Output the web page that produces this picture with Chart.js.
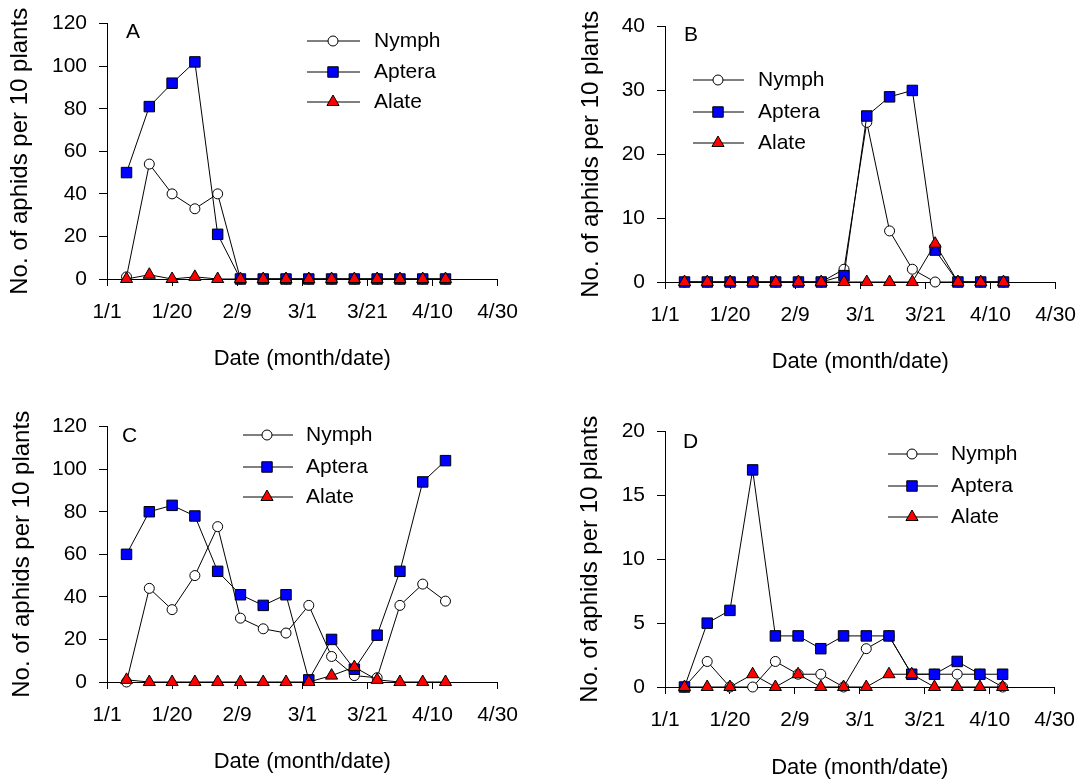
<!DOCTYPE html>
<html><head><meta charset="utf-8">
<script src="https://cdn.jsdelivr.net/npm/chart.js@4.4.1/dist/chart.umd.min.js"></script>
<style>
html,body{margin:0;padding:0;background:#fff;width:1087px;height:784px;overflow:hidden;position:relative;}
canvas{position:absolute;}
</style></head><body>
<script>
// ---------- data ----------
const days = [6,13,20,27,34,41,48,55,62,69,76,83,90,97,104];
const xTickValues = [0,20,40,60,80,100,120];
const xTickLabels = ['1/1','1/20','2/9','3/1','3/21','4/10','4/30'];
const seriesNames = ['Nymph','Aptera','Alate'];

const nymphA  = [1,54,40,33,40,0,0,0,0,0,0,0,0,0,0];
const apteraA = [50,81,92,102,21,0,0,0,0,0,0,0,0,0,0];
const alateA  = [0,2,0,1,0,0,0,0,0,0,0,0,0,0,0];
const yTicksA = [0,20,40,60,80,100,120];

const nymphB  = [0,0,0,0,0,0,0,2,25,8,2,0,0,0,0];
const apteraB = [0,0,0,0,0,0,0,1,26,29,30,5,0,0,0];
const alateB  = [0,0,0,0,0,0,0,0,0,0,0,6,0,0,0];
const yTicksB = [0,10,20,30,40];

const nymphC  = [0,44,34,50,73,30,25,23,36,12,3,2,36,46,38];
const apteraC = [60,80,83,78,52,41,36,41,1,20,6,22,52,94,104];
const alateC  = [1,0,0,0,0,0,0,0,0,3,7,1,0,0,0];
const yTicksC = [0,20,40,60,80,100,120];

const nymphD  = [0,2,0,0,2,1,1,0,3,4,1,1,1,1,0];
const apteraD = [0,5,6,17,4,4,3,4,4,4,1,1,2,1,1];
const alateD  = [0,0,0,1,0,1,0,0,0,1,1,0,0,0,0];
const yTicksD = [0,5,10,15,20];

const xTitle = 'Date (month/date)';
const yTitle = 'No. of aphids per 10 plants';

// ---------- layout / style ----------
const FONT = "'Liberation Sans', Arial, sans-serif";
const TICK_SIZE = 21, XT_SIZE = 22, YT_SIZE = 24, LEG_SIZE = 21, LET_SIZE = 21;
const PT = 20, PR = 30;

const panels = [
  {letter:'A', series:[nymphA,apteraA,alateA], yTicks:yTicksA,
   area:{l:107,r:502,t:19,b:279}, yTitleX:20, xTitleY:359,
   letterPos:{x:126,y:32}, legend:{x0:307,x1:360,mx:333,tx:374,rows:[41,72,102]}},
  {letter:'B', series:[nymphB,apteraB,alateB], yTicks:yTicksB,
   area:{l:665,r:1060,t:22,b:282}, yTitleX:591, xTitleY:362,
   letterPos:{x:684,y:35}, legend:{x0:693,x1:744,mx:718,tx:758,rows:[80,112,143]}},
  {letter:'C', series:[nymphC,apteraC,alateC], yTicks:yTicksC,
   area:{l:107,r:502,t:422,b:682}, yTitleX:22, xTitleY:762,
   letterPos:{x:122,y:436}, legend:{x0:243,x1:293,mx:267,tx:306,rows:[435,467,497]}},
  {letter:'D', series:[nymphD,apteraD,alateD], yTicks:yTicksD,
   area:{l:665,r:1059,t:427,b:687}, yTitleX:590, xTitleY:768,
   letterPos:{x:683,y:442}, legend:{x0:888,x1:938,mx:912,tx:951,rows:[454,486,517]}}
];

const styles = [
  {pointStyle:'circle',   radius:5,   fill:'#ffffff', order:3},
  {pointStyle:'rect',     radius:7.4, fill:'#0000ff', order:2},
  {pointStyle:'triangle', radius:7,   fill:'#ff0000', order:1}
];

function drawMarker(ctx, style, r, fill, x, y){
  ctx.beginPath();
  if (style === 'circle') {
    ctx.arc(x, y, r, 0, Math.PI*2);
  } else if (style === 'rect') {
    const s = Math.SQRT1_2 * r;
    ctx.rect(x - s, y - s, 2*s, 2*s);
  } else {
    let rad = 0;
    ctx.moveTo(x + Math.sin(rad)*r, y - Math.cos(rad)*r);
    rad += 2*Math.PI/3;
    ctx.lineTo(x + Math.sin(rad)*r, y - Math.cos(rad)*r);
    rad += 2*Math.PI/3;
    ctx.lineTo(x + Math.sin(rad)*r, y - Math.cos(rad)*r);
    ctx.closePath();
  }
  ctx.fillStyle = fill; ctx.fill();
  ctx.lineWidth = 1; ctx.strokeStyle = '#000'; ctx.stroke();
}

const overlayPlugin = {
  id: 'overlay',
  afterDraw(chart, args, o) {
    const ctx = chart.ctx;
    ctx.save();
    ctx.fillStyle = '#000';
    ctx.textBaseline = 'middle';
    ctx.textAlign = 'left';
    ctx.font = LET_SIZE + 'px ' + FONT;
    ctx.fillText(o.letter, o.letterPos.x - o.ox, o.letterPos.y - o.oy);
    ctx.font = LEG_SIZE + 'px ' + FONT;
    chart.data.datasets.forEach((ds, i) => {
      const y = o.legend.rows[i] - o.oy;
      ctx.beginPath();
      ctx.lineWidth = 1; ctx.strokeStyle = '#000';
      ctx.moveTo(o.legend.x0 - o.ox, y); ctx.lineTo(o.legend.x1 - o.ox, y);
      ctx.stroke();
      drawMarker(ctx, ds.pointStyle, ds.pointRadius, ds.pointBackgroundColor, o.legend.mx - o.ox, y);
      ctx.fillStyle = '#000';
      ctx.fillText(ds.label, o.legend.tx - o.ox, y);
    });
    ctx.restore();
  }
};

panels.forEach(p => {
  const L = Math.round(p.yTitleX - YT_SIZE/2);
  const T = Math.round(p.area.t - PT);
  const bottom = Math.round(p.xTitleY + XT_SIZE/2);
  const W = Math.round(p.area.r + PR - L);
  const H = bottom - T;
  const Wy = p.area.l - L;
  const Hx = bottom - p.area.b;

  const cv = document.createElement('canvas');
  cv.width = W; cv.height = H;
  cv.style.left = L + 'px'; cv.style.top = T + 'px';
  cv.style.width = W + 'px'; cv.style.height = H + 'px';
  document.body.appendChild(cv);

  const datasets = p.series.map((arr, i) => ({
    label: seriesNames[i],
    data: days.map((d, k) => ({x: d, y: arr[k]})),
    borderColor: '#000',
    borderWidth: 1,
    pointStyle: styles[i].pointStyle,
    pointRadius: styles[i].radius,
    pointHoverRadius: styles[i].radius,
    pointBackgroundColor: styles[i].fill,
    pointBorderColor: '#000',
    pointBorderWidth: 1,
    order: styles[i].order,
    tension: 0,
    clip: false,
    fill: false
  }));

  const yMax = p.yTicks[p.yTicks.length - 1];

  new Chart(cv, {
    type: 'line',
    data: {datasets},
    plugins: [overlayPlugin],
    options: {
      responsive: false,
      animation: false,
      devicePixelRatio: 1,
      events: [],
      layout: {padding: {left: 0, top: PT, right: PR, bottom: 0}},
      plugins: {
        legend: {display: false},
        tooltip: {enabled: false},
        overlay: {letter: p.letter, letterPos: p.letterPos, legend: p.legend, ox: L, oy: T}
      },
      scales: {
        x: {
          type: 'linear', min: xTickValues[0], max: xTickValues[xTickValues.length-1],
          afterBuildTicks: s => { s.ticks = xTickValues.map(v => ({value: v})); },
          afterFit: s => { s.height = Hx; },
          ticks: {
            callback: v => xTickLabels[xTickValues.indexOf(v)],
            autoSkip: false, maxRotation: 0, minRotation: 0, padding: 14,
            color: '#000', font: {family: FONT, size: TICK_SIZE}
          },
          grid: {drawOnChartArea: false, drawTicks: true, tickLength: 7, color: '#000', lineWidth: 1},
          border: {display: true, color: '#000', width: 1},
          title: {display: true, text: xTitle, color: '#000', padding: 0,
                  font: {family: FONT, size: XT_SIZE, lineHeight: 1}}
        },
        y: {
          type: 'linear', min: 0, max: yMax,
          afterBuildTicks: s => { s.ticks = p.yTicks.map(v => ({value: v})); },
          afterFit: s => { s.width = Wy; },
          ticks: {
            callback: v => String(v),
            padding: 12, color: '#000', font: {family: FONT, size: TICK_SIZE}
          },
          grid: {drawOnChartArea: false, drawTicks: true, tickLength: 8, color: '#000', lineWidth: 1},
          border: {display: true, color: '#000', width: 1},
          title: {display: true, text: yTitle, color: '#000', padding: 0,
                  font: {family: FONT, size: YT_SIZE, lineHeight: 1}}
        }
      }
    }
  });
});
</script>
</body></html>
